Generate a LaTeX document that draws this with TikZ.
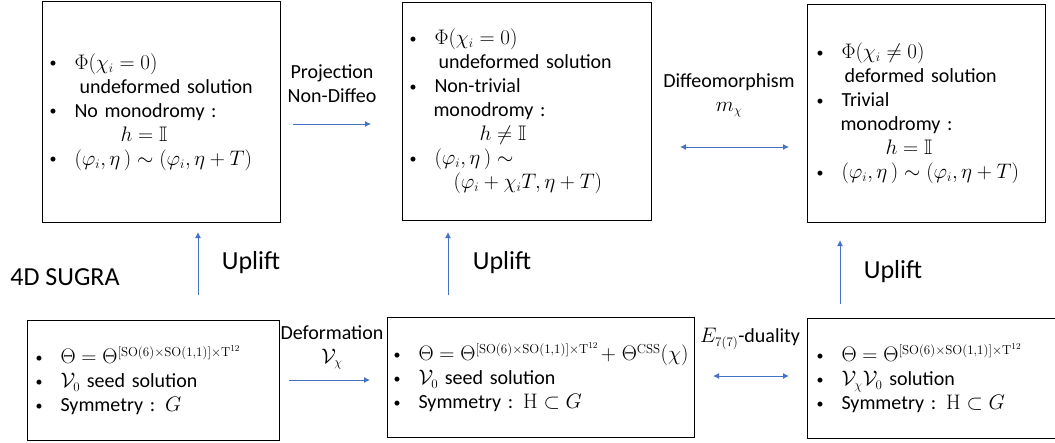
\RequirePackage{fix-cm}
\documentclass[tikz,border=0pt]{standalone}
\usepackage{amssymb}
\usepackage[no-math]{fontspec}
\setmainfont{Carlito}
\usetikzlibrary{arrows.meta}
\DeclareMathSizes{20}{21}{13}{9}
\definecolor{liftblue}{RGB}{68,114,196}
\newcommand{\itm}{\makebox[25pt][l]{\raisebox{1.5pt}{\fontsize{14}{14}\selectfont\textbullet}}}
\newcommand{\ind}[1]{\hspace*{#1pt}}
\newcommand{\thetaseed}{\Theta=\Theta^{[\mathrm{SO}(6)\times\mathrm{SO}(1,1)]\times\mathrm{T}^{12}}}
\tikzset{
	statebox/.style={draw, line width=1pt, anchor=north west, align=left, inner ysep=0pt, font=\fontsize{20}{24}\selectfont},
	maplabel/.style={align=center, font=\fontsize{20}{24}\selectfont},
	bigword/.style={font=\fontsize{26}{30}\selectfont},
	maparrow/.style={draw=liftblue, line width=1pt, -{Latex[length=6pt,width=6pt]}},
	duoarrow/.style={draw=liftblue, line width=1pt, {Latex[length=6pt,width=6pt]}-{Latex[length=6pt,width=6pt]}},
}
\begin{document}
\begin{tikzpicture}[x=1pt, y=-1pt]
	\useasboundingbox (0,0) rectangle (1055,442);
	\clip (0,0) rectangle (1055,442);

	\node[statebox, inner xsep=7pt, text width=224pt, minimum height=221pt] (upA) at (42,1) {
		\itm$\Phi(\chi_i=0)$\\
		\ind{30}undeformed solution\\
		\itm No monodromy :\\
		\ind{71}$h=\mathbb{I}$\\
		\itm$(\varphi_i,\eta\,)\sim(\varphi_i,\eta+T)$};
	\node[statebox, inner xsep=7pt, text width=235pt, minimum height=218pt] (upB) at (402,2) {
		\itm$\Phi(\chi_i=0)$\\
		\ind{29}undeformed solution\\
		\itm Non-trivial\\
		\ind{24}monodromy :\\
		\ind{70}$h\neq\mathbb{I}$\\
		\itm$(\varphi_i,\eta\,)\sim$\\
		\ind{44}$(\varphi_i+\chi_iT,\eta+T)$};
	\node[statebox, inner xsep=9pt, text width=220pt, minimum height=218pt] (upC) at (807,4) {
		\itm$\Phi(\chi_i\neq0)$\\
		\ind{28}deformed solution\\
		\itm Trivial\\
		\ind{24}monodromy :\\
		\ind{69}$h=\mathbb{I}$\\
		\itm$(\varphi_i,\eta\,)\sim(\varphi_i,\eta+T)$};

	\node[statebox, inner xsep=8pt, text width=236pt, minimum height=120pt] (seedA) at (27,320) {
		\itm$\thetaseed$\\
		\itm$\mathcal{V}_0$ seed solution\\
		\itm Symmetry : $G$};
	\node[statebox, inner xsep=6pt, text width=295pt, minimum height=120pt] (seedB) at (387,317) {
		\itm$\thetaseed+\,\Theta^{\mathrm{CSS}}(\chi)$\\
		\itm$\mathcal{V}_0$ seed solution\\
		\itm Symmetry : $\mathrm{H}\subset G$};
	\node[statebox, inner xsep=9pt, text width=245pt, minimum height=120pt] (seedC) at (807,318) {
		\itm$\thetaseed$\\
		\itm$\mathcal{V}_\chi\mathcal{V}_0$ solution\\
		\itm Symmetry : $\mathrm{H}\subset G$};

	\node[maplabel] (projlab) at (332,84) {Projection\\Non-Diffeo};
	\node[maplabel] (difflab) at (729,95) {Diffeomorphism\\$m_\chi$};
	\node[maplabel] (deflab) at (332,347) {Deformation\\$\mathcal{V}_\chi$};
	\node[maplabel] (duallab) at (750,339) {$E_{7(7)}$-duality};
	\node[bigword] (liftlabA) at (251,263) {Uplift};
	\node[bigword] (liftlabB) at (502,263) {Uplift};
	\node[bigword] (liftlabC) at (893,272) {Uplift};
	\node[bigword] (sugra) at (65,277) {4D SUGRA};

	\coordinate (liftA0) at (198,295);
	\coordinate (liftA1) at (198,232);
	\coordinate (liftB0) at (448,295);
	\coordinate (liftB1) at (448,232);
	\coordinate (liftC0) at (840,304);
	\coordinate (liftC1) at (840,240);
	\coordinate (proj0) at (293,124);
	\coordinate (proj1) at (371,124);
	\coordinate (diff0) at (680,147);
	\coordinate (diff1) at (789,147);
	\coordinate (def0) at (289,380);
	\coordinate (def1) at (370,380);
	\coordinate (dual0) at (713,376);
	\coordinate (dual1) at (789,376);

	\draw[maparrow] (liftA0) -- (liftA1);
	\draw[maparrow] (liftB0) -- (liftB1);
	\draw[maparrow] (liftC0) -- (liftC1);
	\draw[maparrow] (proj0) -- (proj1);
	\draw[duoarrow] (diff0) -- (diff1);
	\draw[maparrow] (def0) -- (def1);
	\draw[duoarrow] (dual0) -- (dual1);
\end{tikzpicture}
\end{document}
